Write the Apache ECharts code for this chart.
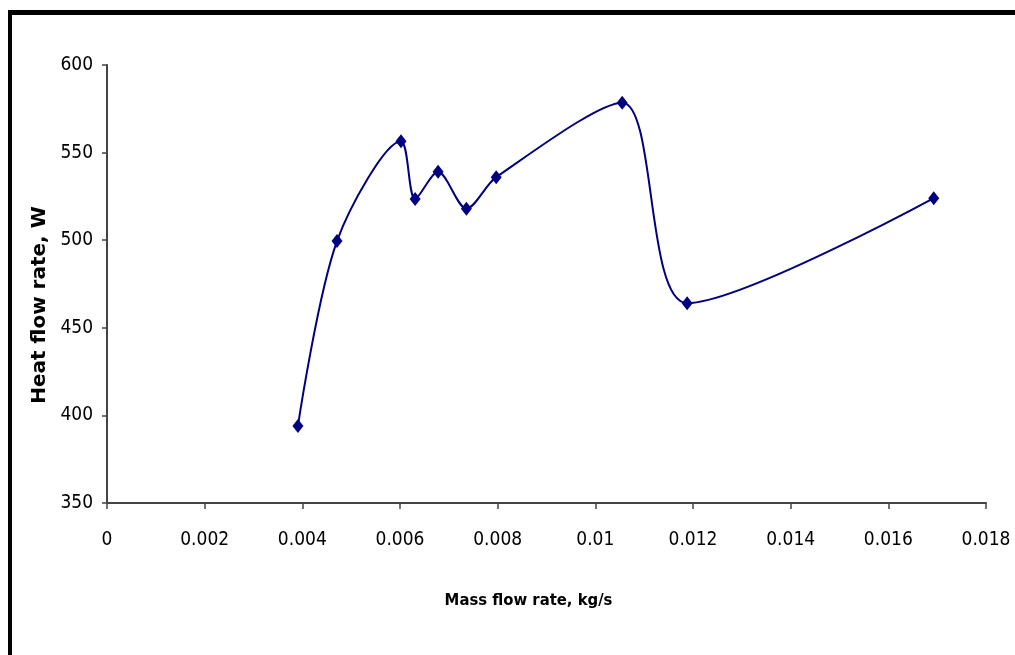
<!DOCTYPE html>
<html>
<head>
<meta charset="utf-8">
<script src="https://cdn.jsdelivr.net/npm/echarts@6/dist/echarts.min.js"></script>
<style>
html,body{margin:0;padding:0;background:#fff;}
#chart{width:1015px;height:655px;}
</style>
</head>
<body>
<div id="chart"></div>
<script>
var massFlow = [0.00391, 0.00471, 0.00602, 0.00631, 0.00678, 0.00736, 0.00797, 0.01055, 0.01188, 0.01693];
var heatFlow = [394, 499.5, 556.5, 523.5, 539, 518, 536, 578.5, 464, 524];
var xTitle = 'Mass flow rate, kg/s';
var yTitle = 'Heat flow rate, W';

var narrow = '"DejaVu Sans Condensed", "Liberation Sans", Arial, sans-serif';
var chart = echarts.init(document.getElementById('chart'), null, {renderer: 'canvas'});
var points = massFlow.map(function (x, i) { return [x, heatFlow[i]]; });

chart.setOption({
  animation: false,
  backgroundColor: '#ffffff',
  grid: {left: 107, right: 29, top: 65, bottom: 152, containLabel: false},
  graphic: [
    {type: 'rect', shape: {x: 8, y: 10, width: 1010, height: 5}, style: {fill: '#000'}},
    {type: 'rect', shape: {x: 8, y: 10, width: 4, height: 650}, style: {fill: '#000'}}
  ],
  xAxis: {
    type: 'value', min: 0, max: 0.018, interval: 0.002,
    name: xTitle, nameLocation: 'middle', nameGap: 89,
    nameTextStyle: {fontFamily: narrow, fontWeight: 'bold', fontSize: 16.5, color: '#000', padding: [0, 36, 0, 0]},
    axisLine: {show: true, lineStyle: {color: '#444', width: 2}},
    axisTick: {show: true, inside: false, length: 6, lineStyle: {color: '#444', width: 1.5}},
    axisLabel: {fontFamily: narrow, fontSize: 19, color: '#000', margin: 28},
    splitLine: {show: false}
  },
  yAxis: {
    type: 'value', min: 350, max: 600, interval: 50,
    name: yTitle, nameLocation: 'middle', nameGap: 52, nameRotate: 90,
    nameTextStyle: {fontFamily: '"DejaVu Sans", Arial, sans-serif', fontWeight: 'bold', fontSize: 20, color: '#000', padding: [0, 42, 0, 0]},
    axisLine: {show: true, lineStyle: {color: '#444', width: 2}},
    axisTick: {show: true, inside: false, length: 5, lineStyle: {color: '#444', width: 1.5}},
    axisLabel: {fontFamily: narrow, fontSize: 19, color: '#000', margin: 14},
    splitLine: {show: false}
  },
  series: [{
    type: 'line',
    data: points,
    smooth: 0.3,
    symbol: 'diamond',
    symbolSize: [11, 14],
    showAllSymbol: true,
    lineStyle: {color: '#000080', width: 2},
    itemStyle: {color: '#000080', borderWidth: 0},
    z: 3
  }]
});
</script>
</body>
</html>
